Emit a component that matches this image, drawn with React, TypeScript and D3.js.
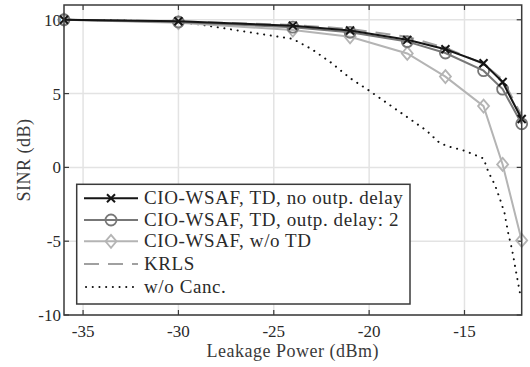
import React, { useEffect, useRef } from 'react';
import * as d3 from 'd3';

// Leakage power points where the adaptive filters were evaluated (dBm)
const leakage = [-36, -30, -24, -21, -18, -16, -14, -13, -12];

// SINR per series (dB)
const tdNoDelay = [10, 9.9, 9.6, 9.27, 8.64, 8.0, 7.05, 5.78, 3.28];
const tdDelay2 = [10, 9.85, 9.5, 9.15, 8.52, 7.75, 6.55, 5.3, 2.95];
const woTD = [10, 9.8, 9.3, 8.85, 7.72, 6.15, 4.15, 0.2, -4.95];
const krls = [10, 9.9, 9.65, 9.38, 8.85, 8.1, 7.0, 5.95, 3.5];

// w/o cancellation curve (denser sampling)
const noCancX = [-36, -33, -30, -29, -28, -27, -26, -25, -24, -23, -22, -21, -20, -19, -18, -17, -16.3, -15.8, -15, -14, -13.75, -13.4, -13.15, -12.9, -12.7, -12.5, -12.25, -12.05];
const noCancY = [10, 9.95, 9.85, 9.7, 9.5, 9.3, 9.1, 8.9, 8.7, 8.0, 7.1, 6.05, 5.2, 4.3, 3.4, 2.5, 1.65, 1.4, 1.13, 0.6, -0.3, -1.2, -2.1, -3.1, -4.5, -5.6, -7.4, -8.8];

const xTicks = [-35, -30, -25, -20, -15];
const yTicks = [-10, -5, 0, 5, 10];

const legendLabels = [
  'CIO-WSAF, TD, no outp. delay',
  'CIO-WSAF, TD, outp. delay: 2',
  'CIO-WSAF, w/o TD',
  'KRLS',
  'w/o Canc.',
];

const FONT = '"Liberation Serif", "Times New Roman", serif';

const App = () => {
  const ref = useRef<SVGSVGElement | null>(null);

  useEffect(() => {
    if (!ref.current) return;
    const svg = d3.select(ref.current);
    svg.selectAll('*').remove();

    const left = 64, right = 521.7, top = 5, bottom = 315;
    const x = d3.scaleLinear().domain([-36, -12]).range([left, right]);
    const y = d3.scaleLinear().domain([-10, 11]).range([bottom, top]);

    svg.append('rect').attr('width', 530).attr('height', 367).attr('fill', '#fff');

    // grid
    const grid = svg.append('g').attr('stroke', '#e3e3e3').attr('stroke-width', 1.5);
    xTicks.forEach(t => grid.append('line').attr('x1', x(t)).attr('x2', x(t)).attr('y1', top).attr('y2', bottom));
    yTicks.forEach(t => grid.append('line').attr('x1', left).attr('x2', right).attr('y1', y(t)).attr('y2', y(t)));

    // axes box with inward ticks
    const axisColor = '#3a3a3a';
    const tl = 5;
    const ax = svg.append('g').attr('stroke', axisColor).attr('stroke-width', 1.2);
    xTicks.forEach(t => {
      ax.append('line').attr('x1', x(t)).attr('x2', x(t)).attr('y1', bottom).attr('y2', bottom - tl);
      ax.append('line').attr('x1', x(t)).attr('x2', x(t)).attr('y1', top).attr('y2', top + tl);
    });
    yTicks.forEach(t => {
      ax.append('line').attr('x1', left).attr('x2', left + tl).attr('y1', y(t)).attr('y2', y(t));
      ax.append('line').attr('x1', right).attr('x2', right - tl).attr('y1', y(t)).attr('y2', y(t));
    });

    // tick labels
    svg.append('g').selectAll('text').data(xTicks).join('text')
      .attr('x', d => x(d)).attr('y', 337)
      .attr('text-anchor', 'middle')
      .attr('font-family', FONT).attr('font-size', 17).attr('fill', '#2a2a2a')
      .text(d => String(d));
    svg.append('g').selectAll('text').data(yTicks).join('text')
      .attr('x', 61).attr('y', d => y(d) + 6)
      .attr('text-anchor', 'end')
      .attr('font-family', FONT).attr('font-size', 17).attr('fill', '#2a2a2a')
      .text(d => String(d));

    // axis titles
    svg.append('text')
      .attr('x', (left + right) / 2).attr('y', 357)
      .attr('text-anchor', 'middle')
      .attr('font-family', FONT).attr('font-size', 18).attr('letter-spacing', 0.5).attr('fill', '#3a3a3a')
      .text('Leakage Power (dBm)');
    svg.append('text')
      .attr('transform', `translate(30,${(top + bottom) / 2}) rotate(-90)`)
      .attr('text-anchor', 'middle')
      .attr('font-family', FONT).attr('font-size', 18).attr('letter-spacing', 0.5).attr('fill', '#3a3a3a')
      .text('SINR (dB)');

    const plot = svg.append('g');
    const line = d3.line<[number, number]>().x(d => x(d[0])).y(d => y(d[1]));
    const pairs = (xs: number[], ys: number[]) => xs.map((v, i) => [v, ys[i]] as [number, number]);

    // w/o Canc.
    plot.append('path').attr('d', line(pairs(noCancX, noCancY)))
      .attr('fill', 'none').attr('stroke', '#111').attr('stroke-width', 2)
      .attr('stroke-dasharray', '0.1 6.6').attr('stroke-linecap', 'round');
    // KRLS
    plot.append('path').attr('d', line(pairs(leakage, krls)))
      .attr('fill', 'none').attr('stroke', '#a0a0a0').attr('stroke-width', 2)
      .attr('stroke-dasharray', '15 9');

    const drawMarker = (g: d3.Selection<SVGGElement, unknown, null, undefined>, kind: string, cx: number, cy: number, color: string) => {
      if (kind === 'x') {
        const s = 4;
        g.append('path').attr('d', `M${cx - s},${cy - s}L${cx + s},${cy + s}M${cx - s},${cy + s}L${cx + s},${cy - s}`)
          .attr('stroke', color).attr('stroke-width', 2).attr('fill', 'none');
      } else if (kind === 'o') {
        g.append('circle').attr('cx', cx).attr('cy', cy).attr('r', 5.5)
          .attr('stroke', color).attr('stroke-width', 1.8).attr('fill', 'none');
      } else if (kind === 'd') {
        g.append('path').attr('d', `M${cx},${cy - 6.5}L${cx + 5.5},${cy}L${cx},${cy + 6.5}L${cx - 5.5},${cy}Z`)
          .attr('stroke', color).attr('stroke-width', 1.8).attr('fill', 'none');
      }
    };

    const series = [
      { ys: woTD, color: '#b4b4b4', kind: 'd' },
      { ys: tdDelay2, color: '#777', kind: 'o' },
      { ys: tdNoDelay, color: '#151515', kind: 'x' },
    ];
    series.forEach(s => {
      const g = plot.append('g');
      g.append('path').attr('d', line(pairs(leakage, s.ys)))
        .attr('fill', 'none').attr('stroke', s.color).attr('stroke-width', 2);
      leakage.forEach((v, i) => drawMarker(g, s.kind, x(v), y(s.ys[i]), s.color));
    });

    // outer frame on top
    svg.append('rect').attr('x', left).attr('y', top).attr('width', right - left).attr('height', bottom - top)
      .attr('fill', 'none').attr('stroke', axisColor).attr('stroke-width', 1.5);

    // legend
    const lg = svg.append('g');
    lg.append('rect').attr('x', 76.7).attr('y', 184.3).attr('width', 333.3).attr('height', 119.7)
      .attr('fill', '#fff').attr('stroke', '#3a3a3a').attr('stroke-width', 1.5);
    const rowsY = [198.3, 220, 241.3, 264, 287];
    const styles = [
      { color: '#151515', kind: 'x', dash: null },
      { color: '#777', kind: 'o', dash: null },
      { color: '#b4b4b4', kind: 'd', dash: null },
      { color: '#a0a0a0', kind: '', dash: '15 9' },
      { color: '#111', kind: '', dash: '0.1 6.6' },
    ];
    legendLabels.forEach((lab, i) => {
      const ry = rowsY[i];
      const st = styles[i];
      const g = lg.append('g');
      const p = g.append('line').attr('x1', 84).attr('x2', 138).attr('y1', ry).attr('y2', ry)
        .attr('stroke', st.color).attr('stroke-width', 2);
      if (st.dash) p.attr('stroke-dasharray', st.dash);
      if (i === 4) p.attr('stroke-linecap', 'round').attr('x1', 86);
      if (st.kind) drawMarker(g, st.kind, 111, ry, st.color);
      g.append('text').attr('x', 144).attr('y', ry + 6)
        .attr('font-family', FONT).attr('font-size', 19).attr('letter-spacing', 0.6).attr('fill', '#2a2a2a')
        .text(lab);
    });
  }, []);

  return (
    <svg ref={ref} width={530} height={367}
      style={{ position: 'absolute', left: 0, top: 0, display: 'block' }} />
  );
};

export default App;
